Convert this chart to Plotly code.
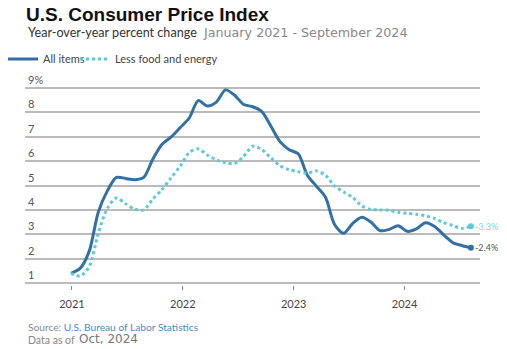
import plotly.graph_objects as go

# Month index 0 = Jan 2021 ... 44 = Sep 2024
MONTHS = list(range(45))
ALL_ITEMS = [1.40, 1.60, 2.30, 3.90, 4.78, 5.33, 5.29, 5.24, 5.33, 6.08, 6.68, 6.98, 7.37, 7.76,
             8.48, 8.26, 8.42, 8.92, 8.70, 8.32, 8.23, 8.03, 7.43, 6.80, 6.47, 6.30, 5.42, 4.97,
             4.52, 3.40, 3.04, 3.45, 3.70, 3.50, 3.15, 3.20, 3.35, 3.12, 3.22, 3.47, 3.32, 2.98,
             2.66, 2.54, 2.45]
CORE = [1.40, 1.29, 1.67, 3.04, 4.07, 4.49, 4.25, 4.03, 4.00, 4.44, 4.83, 5.31, 5.79, 6.35,
        6.50, 6.25, 6.05, 5.94, 5.90, 6.20, 6.61, 6.47, 6.13, 5.81, 5.65, 5.57, 5.50, 5.60,
        5.42, 4.98, 4.73, 4.51, 4.16, 4.02, 4.00, 3.98, 3.90, 3.86, 3.82, 3.76, 3.65, 3.48,
        3.36, 3.24, 3.33]
SERIES_NAMES = ["All items", "Less food and energy"]
END_LABELS = ["-2.4%", "-3.3%"]
X_TICK_POS = [0.1, 12.3, 24.5, 36.7]
X_TICK_TEXT = ["2021", "2022", "2023", "2024"]
Y_TICK_VALS = [1, 2, 3, 4, 5, 6, 7, 8, 9]
Y_TICK_TEXT = ["1", "2", "3", "4", "5", "6", "7", "8", "9%"]

BLUE = "#3270a6"
CYAN = "#5cc9d6"
BODY = "Lato, 'Liberation Sans', sans-serif"

fig = go.Figure()
fig.add_trace(go.Scatter(x=MONTHS, y=ALL_ITEMS, name=SERIES_NAMES[0], mode="lines",
                         line=dict(color=BLUE, width=3, shape="spline", smoothing=0.8),
                         cliponaxis=False, legend="legend"))
fig.add_trace(go.Scatter(x=MONTHS, y=CORE, name=SERIES_NAMES[1], mode="lines",
                         line=dict(color=CYAN, width=3, dash="3px,3px", shape="spline", smoothing=0.8),
                         cliponaxis=False, legend="legend2"))
# end markers
fig.add_trace(go.Scatter(x=[MONTHS[-1]], y=[ALL_ITEMS[-1]], mode="markers", showlegend=False,
                         marker=dict(color=BLUE, size=6), cliponaxis=False, hoverinfo="skip"))
fig.add_trace(go.Scatter(x=[MONTHS[-1]], y=[CORE[-1]], mode="markers", showlegend=False,
                         marker=dict(color=CYAN, size=6), cliponaxis=False, hoverinfo="skip"))

fig.add_annotation(x=MONTHS[-1], y=ALL_ITEMS[-1], text=END_LABELS[0], showarrow=False,
                   xanchor="left", xshift=2, font=dict(size=9, color="#555", family=BODY))
fig.add_annotation(x=MONTHS[-1], y=CORE[-1], text=END_LABELS[1], showarrow=False,
                   xanchor="left", xshift=2, font=dict(size=9, color="#7fd6e0", family=BODY))

W, H = 507, 349
L, R, T, B = 25, 27, 86, 64
pw, ph = W - L - R, H - T - B


def px(xp):
    return (xp - L) / pw


def py(yp):
    return (H - B - yp) / ph


def ann(xp, yp, text, size, color, family=BODY, bold=False):
    fig.add_annotation(xref="paper", yref="paper", x=px(xp), y=py(yp), text=f"<b>{text}</b>" if bold else text,
                       showarrow=False, xanchor="left", yanchor="middle",
                       font=dict(size=size, color=color, family=family))


ann(24, 14, "U.S. Consumer Price Index", 19, "#111", family="'Liberation Sans', Arial, sans-serif", bold=True)
ann(26, 32.5, "Year-over-year percent change", 12.6, "#333")
ann(201, 32.5, "January 2021 - September 2024", 12.7, "#888", family="'DejaVu Sans', sans-serif")
ann(26, 327, "Source: <span style='color:#4a8cbf'>U.S. Bureau of Labor Statistics</span>", 10.2, "#888")
ann(26, 340, "Data as of", 10.5, "#888")
ann(77, 339, "Oct, 2024", 12, "#777", family="'DejaVu Sans', sans-serif")

legend_common = dict(orientation="h", xref="container", yref="container",
                     y=1 - 59 / H, xanchor="left", yanchor="middle",
                     font=dict(size=11, color="#444", family=BODY), itemwidth=30,
                     bgcolor="rgba(0,0,0,0)")

fig.update_layout(
    width=W, height=H,
    margin=dict(l=L, r=R, t=T, b=B, autoexpand=False),
    paper_bgcolor="white", plot_bgcolor="white",
    showlegend=True,
    legend=dict(x=3 / W, **legend_common),
    legend2=dict(x=75 / W, **legend_common),
    xaxis=dict(range=[-5.06, 45.0], tickvals=X_TICK_POS, ticktext=X_TICK_TEXT,
               showgrid=False, zeroline=False, showline=False,
               ticks="outside", ticklen=4, tickcolor="#888", tickwidth=1,
               tickfont=dict(size=11, color="#444", family=BODY), ticklabelstandoff=5),
    yaxis=dict(range=[0.92, 9.08], tickvals=Y_TICK_VALS, ticktext=Y_TICK_TEXT,
               showgrid=True, gridcolor="#bbbbbb", gridwidth=1.5, zeroline=False,
               showline=False, ticks="", ticklabelposition="inside top",
               ticklabeloverflow="allow",
               tickfont=dict(size=11, color="#555", family=BODY)),
)

fig.write_html("out.html")
